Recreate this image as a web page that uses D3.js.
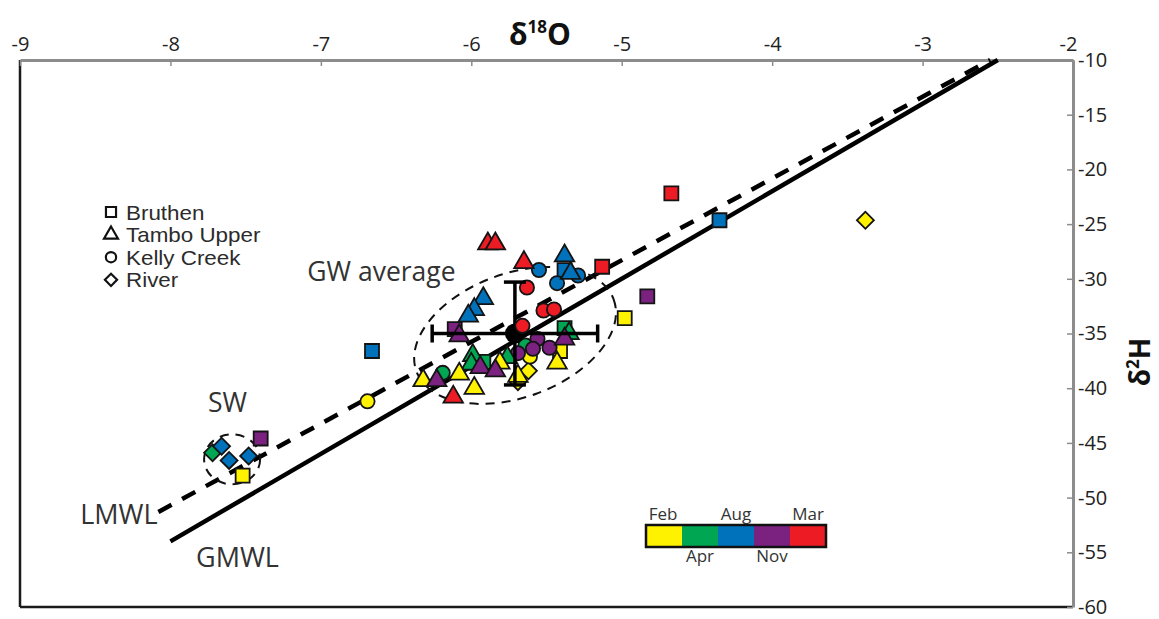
<!DOCTYPE html>
<html>
<head>
<meta charset="utf-8">
<script src="https://cdn.jsdelivr.net/npm/d3@7"></script>
<style>
  html, body { margin: 0; padding: 0; background: #fff; }
  svg { display: block; }
  text { font-family: "Open Sans", "Noto Sans", sans-serif; fill: #2b2b2b; }
</style>
</head>
<body>
<svg id="chart" width="1159" height="619"></svg>
<script>
// ---------- data ----------
const xTicks = [-9, -8, -7, -6, -5, -4, -3, -2];
const yTicks = [-10, -15, -20, -25, -30, -35, -40, -45, -50, -55, -60];
const months = ["Feb", "Apr", "Aug", "Nov", "Mar"];
const monthColors = ["#fff200", "#00a651", "#0072bc", "#7b2281", "#ed1c24"];

// [δ18O, δ2H, month]
const bruthen = [
  [-4.67, -22.2, "Mar"], [-4.35, -24.65, "Aug"], [-5.13, -28.9, "Mar"],
  [-4.83, -31.6, "Nov"], [-4.98, -33.6, "Feb"], [-6.66, -36.6, "Aug"],
  [-5.38, -29.2, "Aug"], [-6.11, -34.6, "Nov"], [-5.38, -34.5, "Apr"],
  [-5.41, -36.6, "Feb"], [-5.92, -37.6, "Apr"],
  [-7.40, -44.6, "Nov"], [-7.52, -48.0, "Feb"]
];
const tamboUpper = [
  [-5.89, -26.8, "Mar"], [-5.84, -26.8, "Mar"], [-5.65, -28.5, "Mar"],
  [-5.38, -27.9, "Aug"], [-5.34, -29.5, "Aug"], [-5.92, -31.8, "Aug"],
  [-5.98, -32.8, "Aug"], [-6.02, -33.4, "Aug"], [-6.08, -35.2, "Nov"],
  [-5.35, -35.0, "Apr"], [-5.38, -35.5, "Nov"], [-5.43, -37.7, "Feb"],
  [-5.76, -37.2, "Apr"], [-5.81, -37.7, "Feb"], [-5.69, -38.9, "Feb"],
  [-5.99, -37.0, "Apr"], [-6.00, -37.8, "Apr"], [-5.94, -38.1, "Nov"],
  [-5.84, -38.4, "Nov"], [-6.08, -38.7, "Feb"], [-6.32, -39.3, "Feb"],
  [-5.98, -40.0, "Feb"], [-6.23, -39.3, "Nov"], [-6.12, -40.8, "Mar"]
];
const kellyCreek = [
  [-5.55, -29.2, "Aug"], [-5.29, -29.7, "Aug"], [-5.43, -30.4, "Aug"],
  [-5.63, -30.8, "Mar"], [-5.52, -32.9, "Mar"], [-5.45, -32.8, "Mar"],
  [-5.64, -36.1, "Apr"], [-5.61, -37.1, "Feb"],
  [-5.56, -35.5, "Nov"], [-5.59, -36.4, "Nov"], [-5.48, -36.3, "Nov"],
  [-5.69, -36.8, "Nov"], [-6.19, -38.6, "Apr"], [-6.69, -41.2, "Feb"]
];
const river = [
  [-3.38, -24.65, "Feb"], [-5.62, -38.4, "Feb"], [-5.69, -39.4, "Feb"],
  [-7.72, -45.9, "Apr"], [-7.66, -45.3, "Aug"], [-7.61, -46.6, "Aug"],
  [-7.48, -46.2, "Aug"]
];
const gwAverage = { x: -5.71, y: -35.0, xErr: 0.55, yErr: 4.7 };
const kellyRedTop = [[-5.66, -34.3, "Mar"]];

// meteoric water lines: δ2H = slope * δ18O + intercept
const gmwl = { slope: 8, intercept: 10, xStart: -8.0 };
const lmwl = { slope: 7.47, intercept: 9.05, xStart: -8.08 };

// ---------- layout ----------
const svg = d3.select("#chart");
const x = d3.scaleLinear().domain([-9, -2]).range([20, 1073]);
const y = d3.scaleLinear().domain([-10, -60]).range([60, 607]);
const color = d3.scaleOrdinal().domain(months).range(monthColors);

// frame (left & bottom black)
svg.append("line").attr("x1", x(-9)).attr("x2", x(-9)).attr("y1", y(-10)).attr("y2", y(-60))
  .attr("stroke", "#1a1a1a").attr("stroke-width", 2.5);
svg.append("line").attr("x1", x(-9)).attr("x2", x(-2)).attr("y1", y(-60)).attr("y2", y(-60))
  .attr("stroke", "#1a1a1a").attr("stroke-width", 2.5);

// top axis
const gx = svg.append("g").attr("transform", `translate(0,${y(-10)})`)
  .call(d3.axisTop(x).tickValues(xTicks).tickFormat(d => String(d))
    .tickSizeInner(-6).tickSizeOuter(0).tickPadding(9));
gx.select(".domain").attr("stroke", "#8c8c8c").attr("stroke-width", 3);
gx.selectAll(".tick line").attr("stroke", "#8c8c8c").attr("stroke-width", 1.5);
gx.selectAll(".tick text").style("font-size", "20px").style("fill", "#222")
  .style("font-family", "'Open Sans', sans-serif")
  .attr("x", d => d === -2 ? -5 : 0);

// right axis
const gy = svg.append("g").attr("transform", `translate(${x(-2)},0)`)
  .call(d3.axisRight(y).tickValues(yTicks).tickFormat(d => String(d))
    .tickSizeInner(-6).tickSizeOuter(0).tickPadding(5));
gy.select(".domain").attr("stroke", "#8c8c8c").attr("stroke-width", 3);
gy.selectAll(".tick line").attr("stroke", "#8c8c8c").attr("stroke-width", 1.5);
gy.selectAll(".tick text").style("font-size", "20px").style("fill", "#222")
  .style("font-family", "'Open Sans', sans-serif");

// axis titles
const tx = svg.append("text").attr("x", 540).attr("y", 45).attr("text-anchor", "middle")
  .style("font-size", "30px").style("font-weight", "bold").style("fill", "#111");
tx.append("tspan").text("δ");
tx.append("tspan").attr("dy", -12).style("font-size", "17px").text("18");
tx.append("tspan").attr("dy", 12).text("O");

const ty = svg.append("text").attr("transform", "translate(1150,362) rotate(-90)")
  .attr("text-anchor", "middle")
  .style("font-size", "28px").style("font-weight", "bold").style("fill", "#111");
ty.append("tspan").text("δ");
ty.append("tspan").attr("dy", -11).style("font-size", "17px").text("2");
ty.append("tspan").attr("dy", 11).text("H");

// ---------- lines ----------
function lineEnd(l) { return (-10 - l.intercept) / l.slope; }
const lineGen = d3.line().x(d => x(d[0])).y(d => y(d[1]));
svg.append("path")
  .datum([[gmwl.xStart, gmwl.slope * gmwl.xStart + gmwl.intercept], [lineEnd(gmwl), -10]])
  .attr("d", lineGen).attr("stroke", "#000").attr("stroke-width", 4.5).attr("fill", "none");
svg.append("path")
  .datum([[lmwl.xStart, lmwl.slope * lmwl.xStart + lmwl.intercept], [lineEnd(lmwl), -10]])
  .attr("d", lineGen).attr("stroke", "#000").attr("stroke-width", 4.5).attr("fill", "none")
  .attr("stroke-dasharray", "15,12");

// ellipses
function ellipse(cx, cy, rx, ry, rot) {
  svg.append("ellipse").attr("cx", 0).attr("cy", 0).attr("rx", rx).attr("ry", ry)
    .attr("transform", `translate(${x(cx)},${y(cy)}) rotate(${rot})`)
    .attr("fill", "none").attr("stroke", "#111").attr("stroke-width", 2)
    .attr("stroke-dasharray", "9,7");
}
ellipse(-5.709, -35.18, 105, 62, -20);
ellipse(-7.59, -46.5, 28, 25, 0);

// labels
function label(txt, dx, dy, size, anchor) {
  svg.append("text").attr("x", x(dx)).attr("y", y(dy)).attr("text-anchor", anchor || "start")
    .style("font-size", size + "px").style("fill", "#333").text(txt);
}
label("GW average", -7.09, -30.2, 26.5);
label("SW", -7.62, -42.2, 26.5, "middle");
label("LMWL", -8.60, -52.4, 27);
label("GMWL", -7.83, -56.3, 27);

// ---------- markers ----------
const sq = d3.symbol().type(d3.symbolSquare).size(196)();
const tri = d3.symbol().type(d3.symbolTriangle).size(165)();
const circ = d3.symbol().type(d3.symbolCircle).size(160)();
const dia = d3.symbol().type(d3.symbolSquare).size(144)();

function draw(data, path, rot) {
  svg.append("g").selectAll("path").data(data).join("path")
    .attr("d", path)
    .attr("transform", d => `translate(${x(d[0])},${y(d[1])})` + (rot ? ` rotate(${rot})` : ""))
    .attr("fill", d => color(d[2])).attr("stroke", "#141414").attr("stroke-width", 1.8);
}

draw(river, dia, 45);
draw(bruthen, sq);
draw(kellyCreek, circ);
draw(tamboUpper, tri);

// GW average with error bars
const eb = svg.append("g").attr("stroke", "#000").attr("stroke-width", 3.5);
eb.append("line").attr("x1", x(gwAverage.x - gwAverage.xErr)).attr("x2", x(gwAverage.x + gwAverage.xErr))
  .attr("y1", y(gwAverage.y)).attr("y2", y(gwAverage.y));
eb.append("line").attr("x1", x(gwAverage.x)).attr("x2", x(gwAverage.x))
  .attr("y1", y(gwAverage.y - gwAverage.yErr)).attr("y2", y(gwAverage.y + gwAverage.yErr));
[gwAverage.x - gwAverage.xErr, gwAverage.x + gwAverage.xErr].forEach(v => {
  eb.append("line").attr("x1", x(v)).attr("x2", x(v)).attr("y1", y(gwAverage.y) - 9).attr("y2", y(gwAverage.y) + 9);
});
[gwAverage.y - gwAverage.yErr, gwAverage.y + gwAverage.yErr].forEach(v => {
  eb.append("line").attr("x1", x(gwAverage.x) - 11).attr("x2", x(gwAverage.x) + 11).attr("y1", y(v)).attr("y2", y(v));
});
svg.append("circle").attr("cx", x(gwAverage.x)).attr("cy", y(gwAverage.y)).attr("r", 10).attr("fill", "#000");
draw(kellyRedTop, circ);

// ---------- shape legend ----------
const legendItems = [
  { name: "Bruthen", path: sq, rot: 0 },
  { name: "Tambo Upper", path: tri, rot: 0 },
  { name: "Kelly Creek", path: circ, rot: 0 },
  { name: "River", path: dia, rot: 45 }
];
const rowH = 22.6;
const lg = svg.append("g").attr("transform", "translate(111,212)");
legendItems.forEach((it, i) => {
  lg.append("path").attr("d", it.path)
    .attr("transform", `translate(0,${i * rowH}) scale(0.72) rotate(${it.rot})`)
    .attr("fill", "#fff").attr("stroke", "#111").attr("stroke-width", 3);
  lg.append("text")
    .attr("transform", `translate(15,${7.5 + i * rowH}) scale(1.12,1)`)
    .style("font-family", "'Liberation Sans', Arial, sans-serif")
    .style("font-size", "20px").style("fill", "#2b2b2b").text(it.name);
});

// ---------- colour bar ----------
const cb = svg.append("g").attr("transform", "translate(646,525)");
const segW = 36, segH = 22;
cb.selectAll("rect.seg").data(months).join("rect").attr("class", "seg")
  .attr("x", (d, i) => i * segW).attr("y", 0).attr("width", segW).attr("height", segH)
  .attr("fill", d => color(d));
cb.append("rect").attr("x", 0).attr("y", 0).attr("width", segW * months.length).attr("height", segH)
  .attr("fill", "none").attr("stroke", "#111").attr("stroke-width", 2.5);
cb.selectAll("text").data(months).join("text")
  .attr("x", (d, i) => i * segW + segW / 2 - (i === 0 ? 1 : 0))
  .attr("y", (d, i) => i % 2 === 0 ? -5 : segH + 15)
  .attr("text-anchor", "middle").style("font-size", "17px").style("fill", "#333").text(d => d);
</script>
</body>
</html>
